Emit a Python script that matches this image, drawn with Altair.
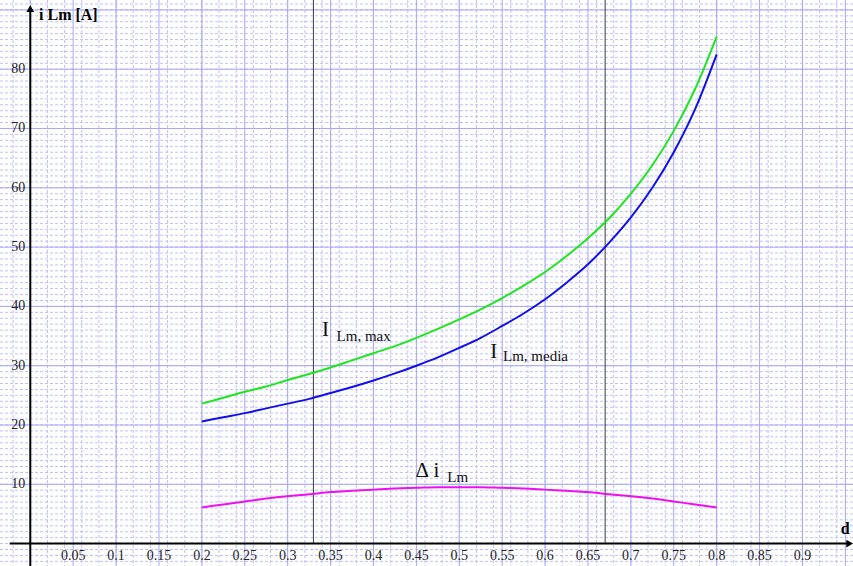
import altair as alt
import numpy as np
import pandas as pd

# Duty cycle d and the magnetising-current curves
d_vals = [0.2, 0.225, 0.25, 0.275, 0.3, 0.325, 0.35, 0.375, 0.4, 0.425, 0.45, 0.475,
          0.5, 0.525, 0.55, 0.575, 0.6, 0.625, 0.65, 0.675, 0.7, 0.725, 0.75, 0.775, 0.8]
i_media = [20.6, 21.3, 22.0, 22.8, 23.6, 24.4, 25.4, 26.4, 27.5, 28.7, 30.0, 31.4,
           33.0, 34.7, 36.7, 38.8, 41.2, 44.0, 47.1, 50.8, 55.0, 60.0, 66.0, 73.3, 82.5]
i_max = [23.6, 24.6, 25.6, 26.5, 27.6, 28.6, 29.7, 30.9, 32.1, 33.3, 34.7, 36.2,
         37.8, 39.5, 41.4, 43.5, 45.8, 48.5, 51.5, 54.9, 59.0, 63.8, 69.6, 76.7, 85.5]
delta_i = [6.1, 6.6, 7.1, 7.6, 8.0, 8.3, 8.7, 8.9, 9.1, 9.3, 9.4, 9.5,
           9.5, 9.5, 9.4, 9.3, 9.1, 8.9, 8.7, 8.3, 8.0, 7.6, 7.1, 6.6, 6.1]

x_ticks = [0.05, 0.1, 0.15, 0.2, 0.25, 0.3, 0.35, 0.4, 0.45, 0.5, 0.55, 0.6,
           0.65, 0.7, 0.75, 0.8, 0.85, 0.9]
x_tick_labels = ["0.05", "0.1", "0.15", "0.2", "0.25", "0.3", "0.35", "0.4", "0.45",
                 "0.5", "0.55", "0.6", "0.65", "0.7", "0.75", "0.8", "0.85", "0.9"]
y_ticks = [10, 20, 30, 40, 50, 60, 70, 80]
d_markers = [0.33, 0.67]

W, H = 853, 566
XS = alt.Scale(domain=[-0.0353, 0.9589], nice=False, zero=False)
YS = alt.Scale(domain=[-3.78, 91.67], nice=False, zero=False)
SERIF = "Liberation Serif, Times New Roman, DejaVu Serif, serif"


def X(field="d"):
    return alt.X(f"{field}:Q", scale=XS, axis=None)


def Y(field="v"):
    return alt.Y(f"{field}:Q", scale=YS, axis=None)


# Graph-paper grid
minor_x = pd.DataFrame({"d": np.round(np.arange(-0.02, 0.95, 0.02), 4)})
major_x = pd.DataFrame({"d": np.round(np.arange(0.0, 0.96, 0.05), 4)})
minor_y = pd.DataFrame({"v": np.arange(-3, 92, 1)})
major_y = pd.DataFrame({"v": np.arange(10, 91, 10)})

grid = alt.layer(
    alt.Chart(minor_x).mark_rule(color="#c0c0fa", strokeWidth=1, strokeDash=[3, 2]).encode(x=X()),
    alt.Chart(minor_y).mark_rule(color="#c0c0fa", strokeWidth=1, strokeDash=[3, 2]).encode(y=Y()),
    alt.Chart(major_x).mark_rule(color="#a6a6f6", strokeWidth=1).encode(x=X()),
    alt.Chart(major_y).mark_rule(color="#a6a6f6", strokeWidth=1).encode(y=Y()),
)

markers = alt.Chart(pd.DataFrame({"d": d_markers, "v": [0] * 2, "v2": [91.67] * 2})).mark_rule(
    color="#3a3a3a", strokeWidth=1
).encode(x=X(), y=Y(), y2="v2:Q")

# Axes with arrow heads
axes_df = pd.DataFrame({"d": [-0.024], "d2": [0.955], "v": [0.0]})
x_axis = alt.Chart(axes_df).mark_rule(color="black", strokeWidth=2).encode(x=X(), x2="d2:Q", y=Y())
y_axis = alt.Chart(pd.DataFrame({"d": [0.0], "v": [-3.78], "v2": [90.0]})).mark_rule(
    color="black", strokeWidth=2
).encode(x=X(), y=Y(), y2="v2:Q")
arrow_up = alt.Chart(pd.DataFrame({"d": [0.0], "v": [90.2]})).mark_point(
    shape="triangle-up", filled=True, color="black", size=60, opacity=1
).encode(x=X(), y=Y())
arrow_right = alt.Chart(pd.DataFrame({"d": [0.955], "v": [0.0]})).mark_point(
    shape="triangle-right", filled=True, color="black", size=60, opacity=1
).encode(x=X(), y=Y())

# Tick labels
xt = pd.DataFrame({"d": x_ticks, "v": [0.0] * len(x_ticks), "t": x_tick_labels})
x_labels = alt.Chart(xt).mark_text(font=SERIF, fontSize=14, color="#222", dy=12, baseline="middle").encode(
    x=X(), y=Y(), text="t:N"
)
yt = pd.DataFrame({"d": [0.0] * len(y_ticks), "v": y_ticks, "t": [str(v) for v in y_ticks]})
y_labels = alt.Chart(yt).mark_text(font=SERIF, fontSize=14, color="#222", dx=-5, align="right",
                                   baseline="middle").encode(x=X(), y=Y(), text="t:N")

titles = pd.DataFrame({"d": [0.0102, 0.9445], "v": [89.2, 2.4], "t": ["i Lm [A]", "d"]})
axis_titles = alt.Chart(titles).mark_text(font=SERIF, fontSize=16, fontWeight="bold", color="black",
                                          align="left", baseline="middle").encode(x=X(), y=Y(), text="t:N")

# Curves
curves_df = pd.concat([
    pd.DataFrame({"d": d_vals, "v": i_max, "s": "I Lm, max"}),
    pd.DataFrame({"d": d_vals, "v": i_media, "s": "I Lm, media"}),
    pd.DataFrame({"d": d_vals, "v": delta_i, "s": "Δ i Lm"}),
])
curves = alt.Chart(curves_df).mark_line(strokeWidth=2, interpolate="monotone").encode(
    x=X(), y=Y(),
    color=alt.Color("s:N", scale=alt.Scale(domain=["I Lm, max", "I Lm, media", "Δ i Lm"],
                                           range=["#1ee61e", "#1010ee", "#ee10ee"]), legend=None),
    detail="s:N",
)

# Curve names: main symbol plus subscript
big = pd.DataFrame({"d": [0.340, 0.536, 0.449, 0.470], "v": [36.0, 32.3, 12.2, 12.2],
                    "t": ["I", "I", "Δ", "i"]})
small = pd.DataFrame({"d": [0.357, 0.551, 0.486], "v": [35.0, 31.6, 11.3],
                      "t": ["Lm, max", "Lm, media", "Lm"]})
big_text = alt.Chart(big).mark_text(font=SERIF, fontSize=21, color="#111", align="left",
                                    baseline="middle").encode(x=X(), y=Y(), text="t:N")
small_text = alt.Chart(small).mark_text(font=SERIF, fontSize=15, color="#111", align="left",
                                        baseline="middle").encode(x=X(), y=Y(), text="t:N")

chart = alt.layer(
    grid, markers, x_axis, y_axis, arrow_up, arrow_right, curves,
    x_labels, y_labels, axis_titles, big_text, small_text,
).properties(
    width=W, height=H, padding=0, autosize=alt.AutoSizeParams(type="none"), background="white"
).configure_view(stroke=None)

chart.save("out.html", embed_options={"renderer": "svg", "actions": False})
